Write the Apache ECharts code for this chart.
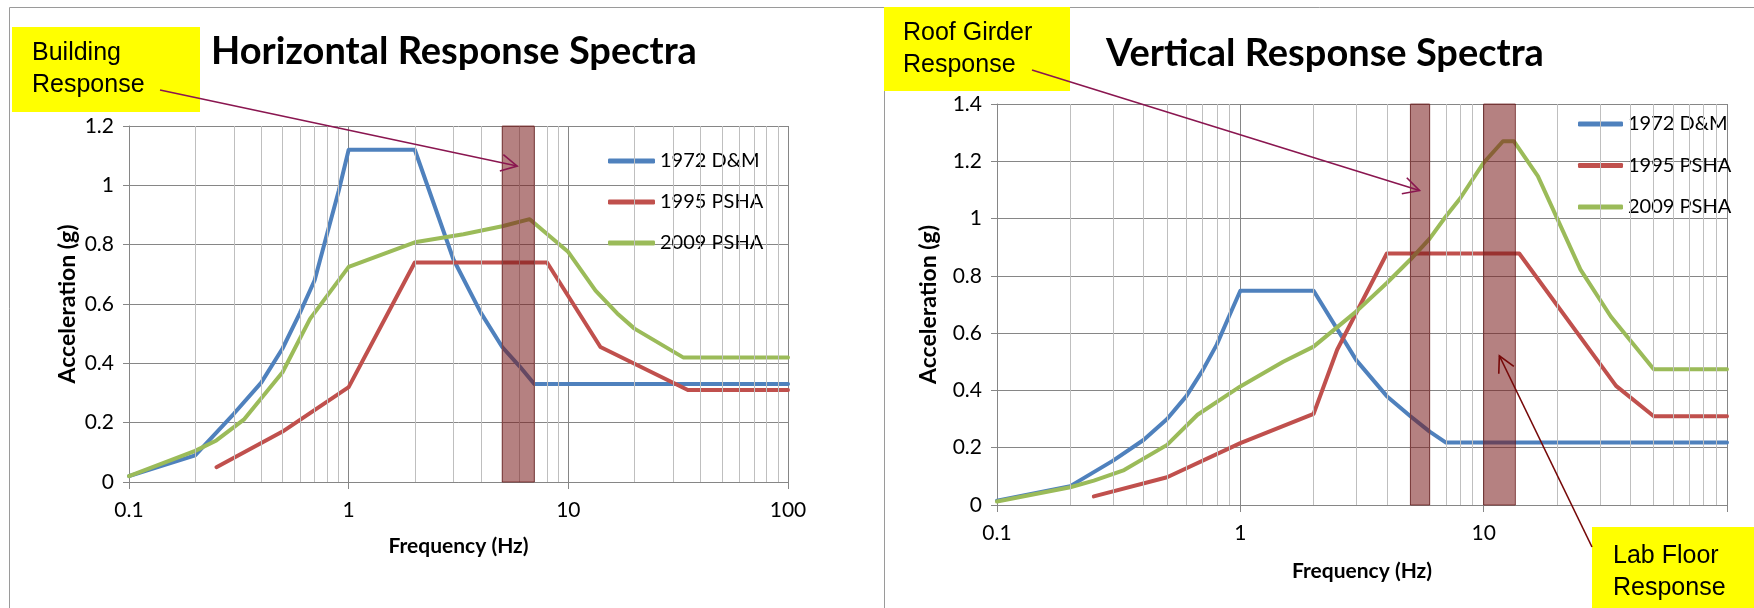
<!DOCTYPE html>
<html>
<head>
<meta charset="utf-8">
<script src="https://cdn.jsdelivr.net/npm/echarts@6/dist/echarts.min.js"></script>
<style>
html,body{margin:0;padding:0;background:#fff;}
#c{width:1754px;height:608px;}
</style>
</head>
<body>
<div id="c"></div>
<script>
// ---------- data ----------
const seriesNames = ['1972 D&M', '1995 PSHA', '2009 PSHA'];

// Horizontal response spectra
const hBlueFreq  = [0.1, 0.2, 0.3, 0.4, 0.5, 0.6, 0.7, 0.8, 0.9, 1, 2, 3, 4, 5, 6, 7, 100];
const hBlueAcc   = [0.02, 0.09, 0.23, 0.335, 0.45, 0.57, 0.68, 0.84, 0.98, 1.12, 1.12, 0.75, 0.57, 0.455, 0.39, 0.33, 0.33];
const hRedFreq   = [0.25, 0.5, 1, 2, 8, 14, 35, 100];
const hRedAcc    = [0.05, 0.17, 0.32, 0.74, 0.74, 0.455, 0.31, 0.31];
const hGreenFreq = [0.1, 0.2, 0.25, 0.333, 0.5, 0.667, 1, 2, 3.33, 5, 6.67, 10, 13.3, 16.7, 20, 33.3, 100];
const hGreenAcc  = [0.02, 0.105, 0.14, 0.21, 0.37, 0.55, 0.725, 0.808, 0.835, 0.862, 0.886, 0.775, 0.645, 0.568, 0.517, 0.42, 0.42];
const hBands     = [[5, 7]];

// Vertical response spectra
const vBlueFreq  = [0.1, 0.2, 0.3, 0.4, 0.5, 0.6, 0.7, 0.8, 0.9, 1, 2, 3, 4, 5, 6, 7, 100];
const vBlueAcc   = [0.015, 0.066, 0.155, 0.227, 0.3, 0.38, 0.47, 0.56, 0.66, 0.748, 0.748, 0.505, 0.38, 0.31, 0.256, 0.218, 0.218];
const vRedFreq   = [0.25, 0.5, 1, 2, 2.5, 4, 14, 35, 50, 100];
const vRedAcc    = [0.03, 0.097, 0.216, 0.318, 0.542, 0.878, 0.878, 0.416, 0.31, 0.31];
const vGreenFreq = [0.1, 0.2, 0.25, 0.333, 0.5, 0.667, 1, 1.5, 2, 3, 4, 5, 6, 7, 8, 10, 12, 13.3, 16.7, 25, 33.3, 50, 100];
const vGreenAcc  = [0.012, 0.062, 0.085, 0.122, 0.21, 0.315, 0.414, 0.5, 0.553, 0.676, 0.775, 0.857, 0.93, 1.008, 1.07, 1.195, 1.27, 1.27, 1.148, 0.822, 0.658, 0.474, 0.474];
const vBands     = [[5, 6], [10, 13.5]];

// axes
const xTicks = [0.1, 1, 10, 100];
const minorGrid = [0.2,0.3,0.4,0.5,0.6,0.7,0.8,0.9,2,3,4,5,6,7,8,9,20,30,40,50,60,70,80,90];
const hYMax = 1.2, vYMax = 1.4, yStep = 0.2;

// annotation tips (data coords)
const hArrowTip = [5.85, 1.065];
const vRoofTip  = [5.45, 1.098];
const vLabTip   = [11.6, 0.521];

// ---------- style ----------
const colors = ['#4F81BD', '#C0504D', '#9BBB59'];
const FONT = 'Lato';
const gridLineColor = '#868686';
const minorLineColor = '#BFBFBF';

function pairs(xs, ys) { return xs.map((x, i) => [x, ys[i]]); }

function lineSeries(name, data, idx, color) {
  return {
    name, type: 'line', xAxisIndex: idx, yAxisIndex: idx,
    data, symbol: 'none', z: 3,
    lineStyle: { color, width: 4, cap: 'round', join: 'round' },
    itemStyle: { color },
    animation: false
  };
}
function minorSeries(idx) {
  return {
    type: 'line', xAxisIndex: idx, yAxisIndex: idx, data: [], silent: true, z: 1,
    markLine: {
      silent: true, symbol: 'none', animation: false,
      label: { show: false },
      lineStyle: { color: minorLineColor, width: 1, type: 'solid' },
      emphasis: { disabled: true },
      data: minorGrid.map(v => ({ xAxis: v }))
    }
  };
}
function bandSeries(idx, bands, ymax) {
  return {
    type: 'custom', xAxisIndex: idx, yAxisIndex: idx, z: 5, silent: true,
    data: bands,
    encode: { x: [0, 1] },
    renderItem: function (params, api) {
      const p0 = api.coord([api.value(0), ymax]);
      const p1 = api.coord([api.value(1), 0]);
      return {
        type: 'rect',
        shape: { x: p0[0], y: p0[1], width: p1[0] - p0[0], height: p1[1] - p0[1] },
        style: { fill: 'rgba(120,25,25,0.55)', stroke: 'rgba(100,20,20,0.7)', lineWidth: 1 }
      };
    },
    animation: false
  };
}
function xAxis(idx, hideMax) {
  return {
    type: 'log', logBase: 10, gridIndex: idx, min: 0.1, max: 100,
    name: 'Frequency (Hz)', nameLocation: 'middle', nameGap: idx === 0 ? 54 : 56,
    nameTextStyle: { fontFamily: FONT, fontWeight: 'bold', fontSize: 21, color: '#000' },
    axisLine: { show: true, onZero: false, lineStyle: { color: gridLineColor, width: 1 } },
    axisTick: { show: true, length: 7, lineStyle: { color: gridLineColor } },
    axisLabel: {
      fontFamily: FONT, fontSize: 21, color: '#000', margin: 18,
      formatter: function (v) {
        if (hideMax && v >= 99) return '';
        const t = xTicks.find(k => Math.abs(k - v) / k < 1e-6);
        return t === undefined ? '' : String(t);
      }
    },
    splitLine: { show: true, lineStyle: { color: gridLineColor, width: 1 } },
    minorTick: { show: false }, minorSplitLine: { show: false }
  };
}
function yAxis(idx, ymax) {
  return {
    type: 'value', gridIndex: idx, min: 0, max: ymax, interval: yStep,
    name: 'Acceleration (g)', nameLocation: 'middle', nameGap: idx === 0 ? 50 : 57,
    nameTextStyle: { fontFamily: FONT, fontWeight: 'bold', fontSize: 23, color: '#000' },
    axisLine: { show: true, lineStyle: { color: gridLineColor, width: 1 } },
    axisTick: { show: true, length: 6, lineStyle: { color: gridLineColor } },
    axisLabel: {
      fontFamily: FONT, fontSize: 21, color: '#000', margin: 15,
      formatter: v => String(Math.round(v * 10) / 10)
    },
    splitLine: { show: true, lineStyle: { color: gridLineColor, width: 1 } }
  };
}

const chart = echarts.init(document.getElementById('c'), null, { renderer: 'canvas' });

const option = {
  backgroundColor: '#fff',
  animation: false,
  title: [
    { text: 'Horizontal Response Spectra', left: 449, top: 28, textAlign: 'center',
      textStyle: { fontFamily: FONT, fontWeight: 'bold', fontSize: 38, color: '#000' } },
    { text: 'Vertical Response Spectra', left: 1320, top: 30, textAlign: 'center',
      textStyle: { fontFamily: FONT, fontWeight: 'bold', fontSize: 38, color: '#000' } }
  ],
  grid: [
    { left: 129, top: 126, width: 659, height: 356, containLabel: false },
    { left: 997, top: 104, width: 730, height: 401, containLabel: false }
  ],
  legend: [
    { data: seriesNames, orient: 'vertical', left: 608, top: 150, padding: 0,
      itemWidth: 47, itemHeight: 5, itemGap: 19, icon: 'roundRect', selectedMode: false,
      textStyle: { fontFamily: FONT, fontSize: 20, color: '#000', lineHeight: 22 } },
    { data: seriesNames, orient: 'vertical', left: 1578, top: 113, padding: 0,
      itemWidth: 45, itemHeight: 5, itemGap: 19.5, icon: 'roundRect', selectedMode: false,
      textStyle: { fontFamily: FONT, fontSize: 20, color: '#000', lineHeight: 22 } }
  ],
  xAxis: [xAxis(0, false), xAxis(1, true)],
  yAxis: [yAxis(0, hYMax), yAxis(1, vYMax)],
  series: [
    minorSeries(0), minorSeries(1),
    lineSeries(seriesNames[0], pairs(hBlueFreq, hBlueAcc), 0, colors[0]),
    lineSeries(seriesNames[1], pairs(hRedFreq, hRedAcc), 0, colors[1]),
    lineSeries(seriesNames[2], pairs(hGreenFreq, hGreenAcc), 0, colors[2]),
    lineSeries(seriesNames[0], pairs(vBlueFreq, vBlueAcc), 1, colors[0]),
    lineSeries(seriesNames[1], pairs(vRedFreq, vRedAcc), 1, colors[1]),
    lineSeries(seriesNames[2], pairs(vGreenFreq, vGreenAcc), 1, colors[2]),
    bandSeries(0, hBands, hYMax),
    bandSeries(1, vBands, vYMax)
  ]
};
chart.setOption(option);

// ---------- annotations ----------
function arrow(from, tipData, gridIdx, color) {
  const tip = chart.convertToPixel({ xAxisIndex: gridIdx, yAxisIndex: gridIdx }, tipData);
  const ang = Math.atan2(tip[1] - from[1], tip[0] - from[0]);
  const L = 18, a = Math.PI / 6.5;
  const p1 = [tip[0] - L * Math.cos(ang - a), tip[1] - L * Math.sin(ang - a)];
  const p2 = [tip[0] - L * Math.cos(ang + a), tip[1] - L * Math.sin(ang + a)];
  return [
    { type: 'line', z: 20, silent: true, shape: { x1: from[0], y1: from[1], x2: tip[0], y2: tip[1] },
      style: { stroke: color, lineWidth: 1.6 } },
    { type: 'polyline', z: 20, silent: true, shape: { points: [p1, tip, p2] },
      style: { stroke: color, lineWidth: 1.6, fill: null } }
  ];
}
function note(x, y, w, h, lines, tx) {
  return {
    type: 'group', z: 30, silent: true,
    children: [
      { type: 'rect', shape: { x, y, width: w, height: h }, style: { fill: '#FFFF00' } },
      { type: 'text', x: tx, y: y + h / 2, style: {
          text: lines.join('\n'), fontFamily: 'Liberation Sans', fontSize: 25, lineHeight: 32,
          fill: '#000', verticalAlign: 'middle', align: 'left' } }
    ]
  };
}

const graphics = [
  { type: 'rect', z: -1, silent: true, shape: { x: 9.5, y: 7.5, width: 875, height: 700 },
    style: { fill: null, stroke: '#9A9A9A', lineWidth: 1 } },
  { type: 'rect', z: -1, silent: true, shape: { x: 884.5, y: 7.5, width: 900, height: 700 },
    style: { fill: null, stroke: '#9A9A9A', lineWidth: 1 } },
  note(12, 27, 188, 85, ['Building', 'Response'], 32),
  note(884, 7, 186, 84, ['Roof Girder', 'Response'], 903),
  note(1592, 527, 170, 90, ['Lab Floor', 'Response'], 1613)
].concat(
  arrow([160, 90], hArrowTip, 0, '#8A1650'),
  arrow([1032, 70], vRoofTip, 1, '#8A1650'),
  arrow([1592, 547], vLabTip, 1, '#760808')
);
chart.setOption({ graphic: graphics });
</script>
</body>
</html>
